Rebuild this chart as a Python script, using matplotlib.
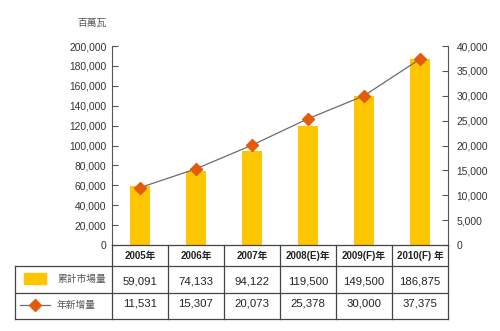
import matplotlib
matplotlib.use('Agg')
import matplotlib.pyplot as plt
from matplotlib.lines import Line2D
from matplotlib.patches import Rectangle
from matplotlib.ticker import FuncFormatter

plt.rcParams['font.family'] = ['Liberation Sans', 'Noto Sans CJK TC', 'DejaVu Sans']

years = ['2005年', '2006年', '2007年', '2008(E)年', '2009(F)年', '2010(F) 年']
cumulative = [59091, 74133, 94122, 119500, 149500, 186875]
annual_new = [11531, 15307, 20073, 25378, 30000, 37375]
unit_label = '百萬瓦'
series_names = ['累計市場量', '年新增量']

BAR = '#fdc600'
MARK = '#e35b0b'
LINE = '#6b6b6b'
AX = '#555555'
TXT = '#333333'

W, H = 500, 331
fig = plt.figure(figsize=(W / 100, H / 100), dpi=100)

# main plot area, in pixels: x 112..448, y 47..245
left, right, top, bottom = 112, 448, 46, 245
ax = fig.add_axes([left / W, 1 - bottom / H, (right - left) / W, (bottom - top) / H])
xs = list(range(len(years)))
ax.bar(xs, cumulative, width=0.37, color=BAR, zorder=2)
ax.set_xlim(-0.5, len(years) - 0.5)
ax.set_ylim(0, 200000)
ax.set_yticks(range(0, 200001, 20000))
ax.yaxis.set_major_formatter(FuncFormatter(lambda v, p: f'{int(v):,}'))
ax.set_xticks([])

ax2 = ax.twinx()
ax2.plot(xs, annual_new, color=LINE, lw=0.9, marker='D', ms=6.5,
         mfc=MARK, mec=MARK, zorder=3)
ax2.set_ylim(0, 40000)
ax2.set_yticks(range(0, 40001, 5000))
ax2.yaxis.set_major_formatter(FuncFormatter(lambda v, p: f'{int(v):,}'))

for a in (ax, ax2):
    for s in a.spines.values():
        s.set_visible(False)
    a.tick_params(axis='y', direction='in', length=4, width=0.8, color=AX,
                  labelsize=7.4, labelcolor=TXT, pad=4)
ax.spines['left'].set_visible(True)
ax.spines['left'].set_color(AX)
ax.spines['left'].set_linewidth(0.8)
ax2.spines['right'].set_visible(True)
ax2.spines['right'].set_color(AX)
ax2.spines['right'].set_linewidth(0.8)
ax2.tick_params(axis='y', pad=6)

# overlay in pixel coordinates for the data table
ov = fig.add_axes([0, 0, 1, 1], zorder=5)
ov.set_xlim(0, W)
ov.set_ylim(H, 0)
ov.axis('off')
ov.patch.set_alpha(0)

tcol = '#444444'
lw = 0.9
col_w = (right - left) / len(years)
edges = [left + i * col_w for i in range(len(years) + 1)]
rows = [245, 266, 293, 319]
tab_left = 15

ov.plot([left, right], [rows[0], rows[0]], color=tcol, lw=lw)
for y in rows[1:]:
    ov.plot([tab_left, right], [y, y], color=tcol, lw=lw)
ov.plot([tab_left, tab_left], [rows[1], rows[3]], color=tcol, lw=lw)
for x in edges:
    ov.plot([x, x], [rows[0], rows[3]], color=tcol, lw=lw)

for i, (yr, c, n) in enumerate(zip(years, cumulative, annual_new)):
    cx = (edges[i] + edges[i + 1]) / 2
    ov.text(cx, 256, yr, ha='center', va='center', fontsize=7,
            fontweight='bold', color='#222222')
    ov.text(cx, 281, f'{c:,}', ha='center', va='center', fontsize=8.2, color='#222222')
    ov.text(cx, 304, f'{n:,}', ha='center', va='center', fontsize=8.2, color='#222222')

# legend cells
ov.add_patch(Rectangle((24, 273), 22, 11, color=BAR))
ov.text(57, 279, series_names[0], ha='left', va='center', fontsize=7, color='#555555')
ov.add_line(Line2D([20, 50], [305, 305], color=LINE, lw=0.9))
ov.plot([35], [305], marker='D', ms=6.5, mfc=MARK, mec=MARK)
ov.text(57, 305, series_names[1], ha='left', va='center', fontsize=7, color='#555555')

ov.text(92, 23, unit_label, ha='center', va='center', fontsize=7, color='#555555')

fig.savefig('out.png', dpi=100)
